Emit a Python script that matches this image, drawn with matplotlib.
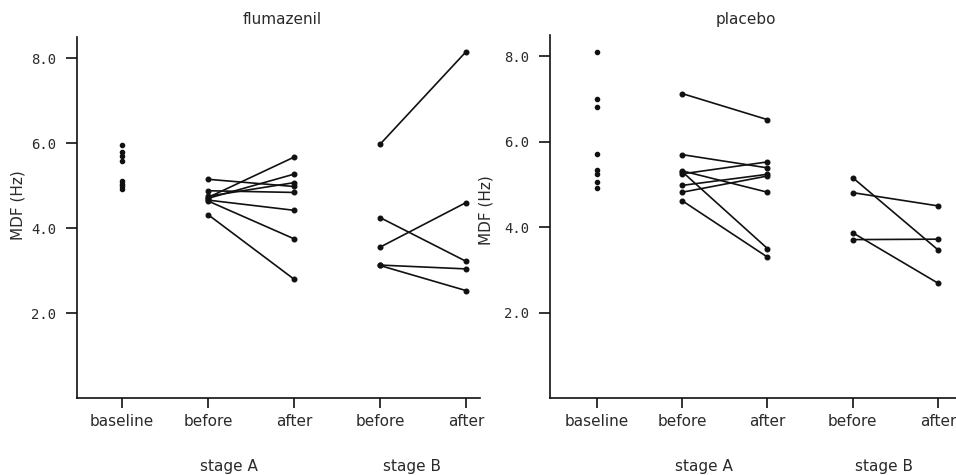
import matplotlib
matplotlib.use("Agg")
import matplotlib.pyplot as plt
import matplotlib.transforms as mtransforms

# Visit order on the x axis
positions = [1, 2, 3, 4, 5]
tick_labels = ["baseline", "before", "after", "before", "after"]
stage_names = ["stage A", "stage B"]
y_ticks = [2.0, 4.0, 6.0, 8.0]

# flumazenil group, MDF in Hz
flu_baseline = [5.95, 5.80, 5.70, 5.58, 5.12, 5.05, 4.98, 4.92]
flu_a_before = [5.15, 4.88, 4.72, 4.70, 4.75, 4.66, 4.64, 4.32]
flu_a_after = [4.98, 4.84, 5.67, 5.27, 5.07, 4.42, 3.75, 2.80]
flu_b_before = [5.97, 4.25, 3.55, 3.13, 3.12]
flu_b_after = [8.15, 3.22, 4.60, 3.04, 2.53]

# placebo group, MDF in Hz
pla_baseline = [8.10, 7.00, 6.82, 5.72, 5.35, 5.25, 5.07, 4.92]
pla_a_before = [7.13, 5.70, 5.25, 5.32, 5.30, 4.98, 4.82, 4.62]
pla_a_after = [6.52, 5.39, 5.53, 4.82, 3.50, 5.24, 5.20, 3.30]
pla_b_before = [5.16, 4.81, 3.87, 3.71]
pla_b_after = [3.47, 4.50, 2.69, 3.72]

INK = "#111111"
TXT = "#2a2a2a"
SANS = "DejaVu Sans"
MONO = "DejaVu Sans Mono"

fig = plt.figure(figsize=(9.56, 4.75), dpi=100)


def panel(rect, xlim, title, base, a_bef, a_aft, b_bef, b_aft,
          title_x, ylab_x, ylab_y):
    ax = fig.add_axes(rect)
    ax.set_xlim(*xlim)
    ax.set_ylim(0, 8.5)
    for side in ("top", "right"):
        ax.spines[side].set_visible(False)
    for side in ("left", "bottom"):
        ax.spines[side].set_linewidth(1.2)
        ax.spines[side].set_color(INK)

    # baseline values as loose dots
    ax.plot([positions[0]] * len(base), base, "o", color=INK,
            markersize=3.0, linestyle="none")
    # paired before/after lines for each stage
    for bef, aft, xs in ((a_bef, a_aft, positions[1:3]),
                         (b_bef, b_aft, positions[3:5])):
        for v0, v1 in zip(bef, aft):
            ax.plot(xs, [v0, v1], "-o", color=INK, linewidth=1.2,
                    markersize=3.3)

    ax.set_xticks(positions)
    ax.set_xticklabels(tick_labels, fontsize=11, family=SANS, color=TXT)
    ax.set_yticks(y_ticks)
    ax.set_yticklabels([f"{v:.1f}" for v in y_ticks], fontsize=10,
                       family=MONO, color=TXT)
    ax.tick_params(axis="x", direction="out", length=7.5, width=1.2,
                   pad=4, color=INK)
    ax.tick_params(axis="y", direction="out", length=8, width=1.2,
                   pad=7, color=INK)

    fig.text(title_x, 0.958, title, ha="center", va="center",
             fontsize=11, family=SANS, color=TXT)
    fig.text(ylab_x, ylab_y, "MDF (Hz)", rotation=90, ha="center",
             va="center", fontsize=11, family=SANS, color=TXT)

    trans = mtransforms.blended_transform_factory(ax.transData,
                                                  fig.transFigure)
    ax.text(2.25, 0.018, stage_names[0], transform=trans, ha="center",
            va="center", fontsize=11, family=SANS, color=TXT)
    ax.text(4.37, 0.018, stage_names[1], transform=trans, ha="center",
            va="center", fontsize=11, family=SANS, color=TXT)
    return ax


panel([0.0805, 0.1621, 0.4215, 0.760], (0.477, 5.163), "flumazenil",
      flu_baseline, flu_a_before, flu_a_after, flu_b_before, flu_b_after,
      title_x=0.295, ylab_x=0.019, ylab_y=0.568)
panel([0.5753, 0.1621, 0.4247, 0.764], (0.449, 5.211), "placebo",
      pla_baseline, pla_a_before, pla_a_after, pla_b_before, pla_b_after,
      title_x=0.780, ylab_x=0.508, ylab_y=0.558)

fig.savefig("out.png", dpi=100)
